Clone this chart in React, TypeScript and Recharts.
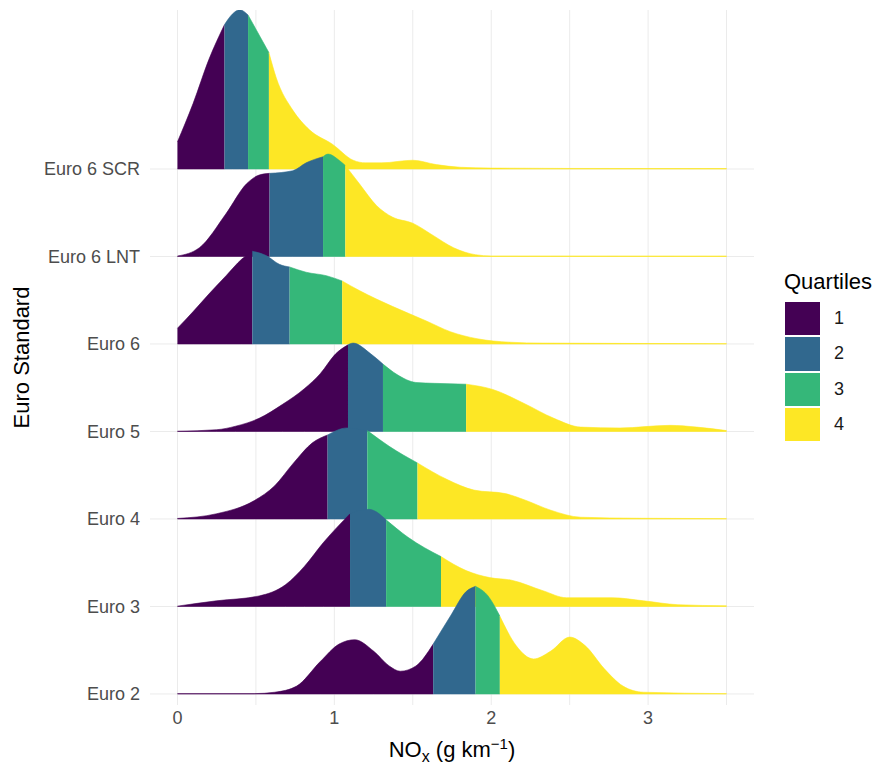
import React from 'react';
import { ComposedChart, Area, XAxis, YAxis, CartesianGrid, Legend, Label } from 'recharts';

const FONT = '"Liberation Sans", Arial, Helvetica, sans-serif';

const STANDARDS = ['Euro 2', 'Euro 3', 'Euro 4', 'Euro 5', 'Euro 6', 'Euro 6 LNT', 'Euro 6 SCR'];
const QUARTILES = ['1', '2', '3', '4'];
const QUARTILE_COLORS = ['#440154', '#31688E', '#35B779', '#FDE725'];
const X_TICKS = [0, 0.5, 1, 1.5, 2, 2.5, 3, 3.5];
const Y_TICKS = [0, 1, 2, 3, 4, 5, 6];

// NOx (g/km) sample points and density height (1 = gap between two ridges)
const euro2X = [0, 0.49, 0.62, 0.76, 0.91, 1.03, 1.13, 1.25, 1.35, 1.42, 1.52, 1.63, 1.74, 1.84, 1.9, 1.98, 2.055, 2.16, 2.27, 2.38, 2.5, 2.6, 2.72, 2.84, 2.97, 3.5];
const euro2D = [0.004, 0.004, 0.02, 0.09, 0.37, 0.57, 0.62, 0.49, 0.32, 0.26, 0.32, 0.57, 0.89, 1.17, 1.23, 1.12, 0.89, 0.55, 0.4, 0.49, 0.65, 0.55, 0.29, 0.09, 0.02, 0.004];
const euro2Cuts = [1.63, 1.9, 2.055];

const euro3X = [0, 0.25, 0.52, 0.69, 0.81, 0.93, 1.1, 1.22, 1.33, 1.47, 1.68, 1.84, 1.99, 2.13, 2.33, 2.48, 2.77, 2.97, 3.19, 3.5];
const euro3D = [0.004, 0.065, 0.12, 0.25, 0.46, 0.73, 1.06, 1.11, 0.99, 0.79, 0.57, 0.41, 0.33, 0.3, 0.18, 0.1, 0.1, 0.065, 0.02, 0.008];
const euro3Cuts = [1.1, 1.33, 1.68];

const euro4X = [0, 0.25, 0.49, 0.62, 0.74, 0.86, 0.957, 1.08, 1.21, 1.35, 1.53, 1.72, 1.89, 2.09, 2.21, 2.38, 2.57, 2.94, 3.5];
const euro4D = [0.006, 0.06, 0.21, 0.38, 0.64, 0.87, 0.96, 1.04, 1.01, 0.83, 0.64, 0.45, 0.33, 0.29, 0.22, 0.1, 0.02, 0.008, 0.004];
const euro4Cuts = [0.957, 1.21, 1.53];

const euro5X = [0, 0.25, 0.37, 0.52, 0.67, 0.81, 0.91, 1.01, 1.087, 1.12, 1.23, 1.31, 1.4, 1.52, 1.64, 1.84, 2.01, 2.21, 2.4, 2.57, 2.82, 3.14, 3.31, 3.5];
const euro5D = [0.003, 0.02, 0.06, 0.15, 0.31, 0.49, 0.66, 0.89, 0.99, 1.01, 0.89, 0.77, 0.65, 0.56, 0.55, 0.54, 0.48, 0.32, 0.15, 0.05, 0.04, 0.07, 0.05, 0.01];
const euro5Cuts = [1.087, 1.31, 1.84];

const euro6X = [0, 0.1, 0.2, 0.31, 0.41, 0.477, 0.566, 0.65, 0.715, 0.82, 0.95, 1.05, 1.16, 1.37, 1.59, 1.74, 1.91, 2.12, 2.33, 3.5];
const euro6D = [0.18, 0.37, 0.57, 0.78, 0.97, 1.06, 1.01, 0.91, 0.88, 0.82, 0.78, 0.72, 0.61, 0.43, 0.26, 0.14, 0.06, 0.02, 0.01, 0.004];
const euro6Cuts = [0.477, 0.715, 1.05];

const lntX = [0, 0.14, 0.31, 0.44, 0.52, 0.587, 0.735, 0.82, 0.928, 0.96, 1.03, 1.07, 1.16, 1.27, 1.37, 1.5, 1.63, 1.76, 1.9, 2.0, 3.5];
const lntD = [0.005, 0.1, 0.49, 0.83, 0.93, 0.95, 0.98, 1.07, 1.14, 1.17, 1.1, 1.04, 0.83, 0.58, 0.45, 0.38, 0.24, 0.1, 0.02, 0.006, 0.005];
const lntCuts = [0.587, 0.928, 1.07];

const scrX = [0, 0.1, 0.2, 0.3, 0.35, 0.396, 0.45, 0.583, 0.63, 0.736, 0.84, 0.99, 1.12, 1.2, 1.3, 1.5, 1.65, 1.8, 2.0, 2.5, 3.5];
const scrD = [0.31, 0.75, 1.25, 1.65, 1.77, 1.82, 1.76, 1.33, 1.04, 0.67, 0.45, 0.28, 0.1, 0.07, 0.07, 0.1, 0.05, 0.02, 0.01, 0.006, 0.005];
const scrCuts = [0.3, 0.45, 0.583];

const ridges = [
  { x: euro2X, d: euro2D, cuts: euro2Cuts },
  { x: euro3X, d: euro3D, cuts: euro3Cuts },
  { x: euro4X, d: euro4D, cuts: euro4Cuts },
  { x: euro5X, d: euro5D, cuts: euro5Cuts },
  { x: euro6X, d: euro6D, cuts: euro6Cuts },
  { x: lntX, d: lntD, cuts: lntCuts },
  { x: scrX, d: scrD, cuts: scrCuts },
];

// split every ridge into its quartile pieces, top ridge drawn first
const segments = ridges
  .map((r, i) => {
    const edges = [-Infinity, ...r.cuts, Infinity];
    return QUARTILES.map((q, k) => ({
      key: `${STANDARDS[i]}-${q}`,
      color: QUARTILE_COLORS[k],
      data: r.x
        .map((x, j) => ({ x, band: [i, i + r.d[j]] }))
        .filter((p) => p.x >= edges[k] && p.x <= edges[k + 1]),
    }));
  })
  .reverse()
  .flat();

const XTitle = (props: any) => {
  const { viewBox } = props;
  const cx = viewBox.x + viewBox.width / 2;
  const y = viewBox.y + 52;
  return (
    <text x={cx} y={y} textAnchor="middle" fontSize={22} fill="#000" fontFamily={FONT}>
      NO<tspan dy={5} fontSize={16}>x</tspan>
      <tspan dy={-5}> (g km</tspan>
      <tspan dy={-8} fontSize={15}>−1</tspan>
      <tspan dy={8}>)</tspan>
    </text>
  );
};

const YTitle = (props: any) => {
  const { viewBox } = props;
  const cx = viewBox.x + 21;
  const cy = viewBox.y + viewBox.height / 2;
  return (
    <text
      x={cx}
      y={cy}
      transform={`rotate(-90 ${cx} ${cy})`}
      textAnchor="middle"
      dominantBaseline="central"
      fontSize={22}
      fill="#000"
      fontFamily={FONT}
    >
      Euro Standard
    </text>
  );
};

const QuartileLegend = () => (
  <div style={{ fontFamily: FONT }}>
    <div style={{ fontSize: 22, lineHeight: '24px', marginBottom: 7, color: '#000' }}>Quartiles</div>
    {QUARTILES.map((q, i) => (
      <div key={q} style={{ display: 'flex', alignItems: 'center', height: 35.3 }}>
        <div
          style={{
            width: 37,
            height: 35.3,
            background: QUARTILE_COLORS[i],
            boxSizing: 'border-box',
            border: '1px solid #fff',
          }}
        />
        <span style={{ marginLeft: 13, fontSize: 18, color: '#1a1a1a' }}>{q}</span>
      </div>
    ))}
  </div>
);

export default function App() {
  return (
    <div style={{ width: 883, height: 766, position: 'relative' }}>
      <style>{'body{margin:0;}'}</style>
      <ComposedChart
        width={883}
        height={766}
        margin={{ top: 10, right: 129, bottom: 0, left: 0 }}
        style={{ fontFamily: FONT }}
      >
        <CartesianGrid stroke="#EBEBEB" strokeWidth={1} syncWithTicks />
        <XAxis
          dataKey="x"
          type="number"
          domain={[-0.175, 3.675]}
          allowDataOverflow
          ticks={X_TICKS}
          interval={0}
          tickFormatter={(v: number) => (Number.isInteger(v) && v <= 3 ? String(v) : '')}
          axisLine={false}
          tickLine={false}
          tickSize={0}
          tickMargin={6}
          height={61}
          tick={{ fill: '#4D4D4D', fontSize: 18 }}
        >
          <Label content={XTitle} />
        </XAxis>
        <YAxis
          type="number"
          domain={[-0.126, 7.817]}
          allowDataOverflow
          ticks={Y_TICKS}
          interval={0}
          tickFormatter={(v: number) => STANDARDS[v]}
          axisLine={false}
          tickLine={false}
          tickSize={0}
          tickMargin={10}
          width={150}
          tick={{ fill: '#4D4D4D', fontSize: 18 }}
        >
          <Label content={YTitle} />
        </YAxis>
        <Legend
          layout="vertical"
          align="center"
          verticalAlign="middle"
          content={<QuartileLegend />}
          wrapperStyle={{ left: 784, top: 270, width: 95 }}
        />
        {segments.map((s) => (
          <Area
            key={s.key}
            data={s.data}
            dataKey="band"
            type="monotone"
            fill={s.color}
            fillOpacity={1}
            stroke={s.color}
            strokeWidth={0.6}
            isAnimationActive={false}
            legendType="none"
            activeDot={false}
            dot={false}
          />
        ))}
      </ComposedChart>
    </div>
  );
}
